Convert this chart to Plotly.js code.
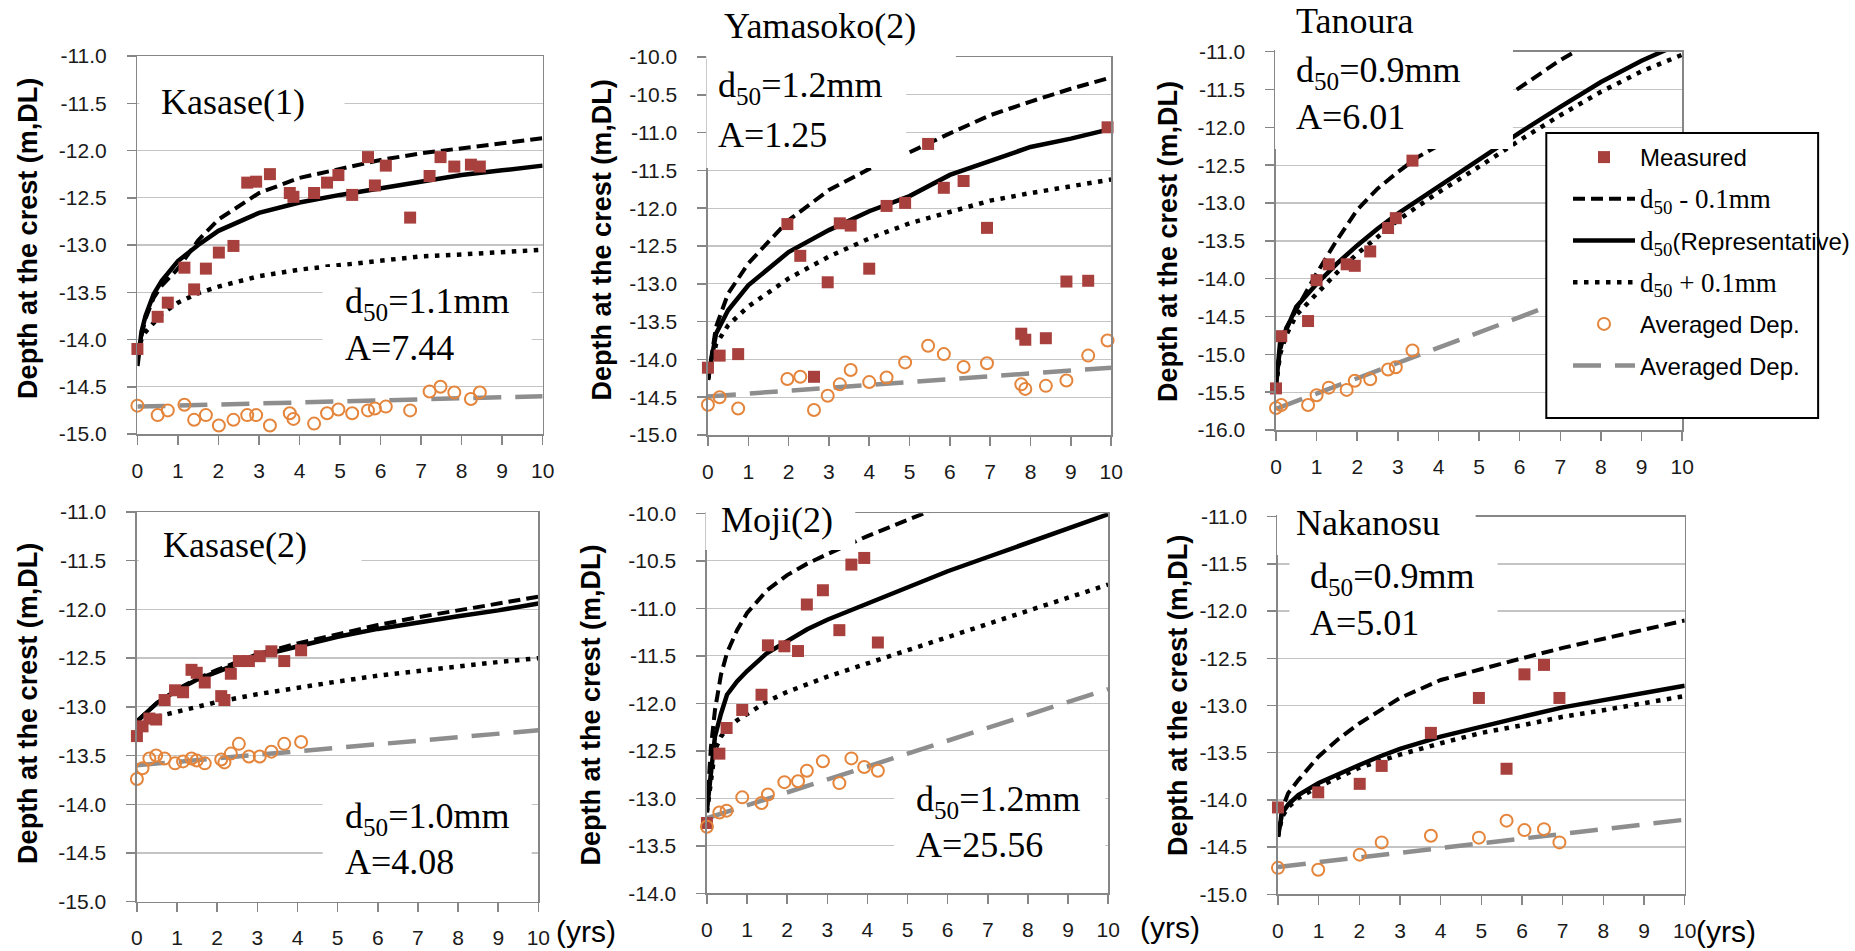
<!DOCTYPE html>
<html><head><meta charset="utf-8">
<script src="https://cdn.plot.ly/plotly-3.0.1.min.js"></script>
<style>html,body{margin:0;padding:0;background:#fff;}#chart{width:1855px;height:951px;}</style>
</head><body><div id="chart"></div>
<script>
// ---------------- data ----------------
const xTickVals = [0,1,2,3,4,5,6,7,8,9,10];
const xTickText = ['0','1','2','3','4','5','6','7','8','9','10'];
const yTicks11to15 = [-15.0,-14.5,-14.0,-13.5,-13.0,-12.5,-12.0,-11.5,-11.0];
const yTicks10to15 = [-15.0,-14.5,-14.0,-13.5,-13.0,-12.5,-12.0,-11.5,-11.0,-10.5,-10.0];
const yTicks11to16 = [-16.0,-15.5,-15.0,-14.5,-14.0,-13.5,-13.0,-12.5,-12.0,-11.5,-11.0];
const yTicks10to14 = [-14.0,-13.5,-13.0,-12.5,-12.0,-11.5,-11.0,-10.5,-10.0];
const trendYears = [0,10];

// Kasase(1)
const k1Years = [0,0.50,0.75,1.16,1.40,1.69,2.01,2.37,2.71,2.93,3.27,3.76,3.85,4.36,4.68,4.96,5.30,5.69,5.86,6.13,6.73,7.21,7.48,7.82,8.23,8.45];
const k1Measured = [-14.10,-13.76,-13.61,-13.24,-13.47,-13.25,-13.08,-13.01,-12.34,-12.33,-12.25,-12.45,-12.49,-12.45,-12.34,-12.26,-12.47,-12.07,-12.37,-12.16,-12.71,-12.27,-12.07,-12.17,-12.15,-12.17];
const k1Averaged = [-14.70,-14.80,-14.75,-14.69,-14.85,-14.80,-14.91,-14.85,-14.80,-14.80,-14.91,-14.78,-14.84,-14.89,-14.78,-14.74,-14.78,-14.75,-14.73,-14.71,-14.75,-14.55,-14.50,-14.56,-14.63,-14.56];
const k1CurveYears = [0,0.1,0.2,0.4,0.6,1,1.5,2,3,4,5,6,7,8,9,10];
const k1Minus = [-14.15,-13.97,-13.78,-13.56,-13.43,-13.25,-12.95,-12.73,-12.45,-12.29,-12.19,-12.10,-12.03,-11.98,-11.92,-11.87];
const k1Rep   = [-14.28,-13.92,-13.75,-13.52,-13.38,-13.17,-13.00,-12.85,-12.66,-12.55,-12.47,-12.40,-12.33,-12.26,-12.21,-12.16];
const k1Plus  = [-14.15,-14.00,-13.92,-13.82,-13.73,-13.61,-13.51,-13.44,-13.33,-13.26,-13.21,-13.16,-13.12,-13.10,-13.08,-13.05];
const k1Trend = [-14.71,-14.60];

// Yamasoko(2)
const y2Years = [0,0.29,0.75,1.97,2.29,2.63,2.97,3.27,3.54,4.00,4.43,4.89,5.46,5.85,6.34,6.92,7.77,7.87,8.38,8.89,9.43,9.91];
const y2Measured = [-14.11,-13.95,-13.93,-12.21,-12.63,-14.23,-12.98,-12.20,-12.23,-12.80,-11.97,-11.93,-11.15,-11.73,-11.64,-12.26,-13.66,-13.74,-13.72,-12.97,-12.96,-10.93];
const y2Averaged = [-14.60,-14.50,-14.65,-14.26,-14.23,-14.67,-14.48,-14.33,-14.14,-14.30,-14.24,-14.04,-13.82,-13.93,-14.10,-14.05,-14.33,-14.39,-14.35,-14.28,-13.95,-13.75];
const y2CurveYears = [0,0.2,0.5,1,2,3,4,5,6,7,8,9,10];
const y2Minus = [-14.27,-13.57,-13.13,-12.73,-12.16,-11.76,-11.48,-11.26,-11.01,-10.77,-10.59,-10.42,-10.27];
const y2Rep   = [-14.27,-13.66,-13.35,-13.02,-12.58,-12.29,-12.04,-11.84,-11.56,-11.37,-11.19,-11.08,-10.95];
const y2Plus  = [-14.27,-13.80,-13.55,-13.30,-12.93,-12.64,-12.40,-12.20,-12.05,-11.90,-11.80,-11.71,-11.62];
const y2Trend = [-14.49,-14.11];

// Tanoura
const t3Years = [0,0.13,0.79,1.00,1.30,1.74,1.94,2.32,2.76,2.95,3.36];
const t3Measured = [-15.45,-14.76,-14.56,-14.02,-13.81,-13.81,-13.83,-13.64,-13.33,-13.20,-12.44];
const t3Averaged = [-15.71,-15.67,-15.67,-15.54,-15.44,-15.47,-15.35,-15.33,-15.20,-15.17,-14.95];
const t3CurveYears = [0,0.1,0.25,0.5,1,1.5,2,2.5,3,3.5,4,5,6,7,8,9,10];
const t3MinusYears = [0,0.1,0.25,0.5,1,1.5,2,2.5,3,3.5,4,5,6,7,8];
const t3Minus = [-15.40,-14.95,-14.65,-14.41,-13.93,-13.49,-13.09,-12.81,-12.59,-12.39,-12.24,-11.84,-11.47,-11.11,-10.80];
const t3Rep   = [-15.43,-14.85,-14.68,-14.37,-14.07,-13.80,-13.56,-13.34,-13.14,-12.96,-12.78,-12.42,-12.07,-11.73,-11.40,-11.12,-10.88];
const t3Plus  = [-15.43,-15.00,-14.75,-14.48,-14.20,-13.92,-13.67,-13.45,-13.23,-13.04,-12.86,-12.52,-12.17,-11.84,-11.53,-11.26,-11.04];
const t3Trend = [-15.72,-13.70];

// Kasase(2)
const k2Years = [0,0.14,0.31,0.48,0.69,0.95,1.15,1.36,1.49,1.69,2.10,2.18,2.34,2.54,2.79,3.06,3.35,3.67,4.09];
const k2Measured = [-13.30,-13.20,-13.12,-13.13,-12.93,-12.83,-12.85,-12.62,-12.65,-12.75,-12.89,-12.93,-12.66,-12.53,-12.53,-12.48,-12.43,-12.53,-12.42];
const k2Averaged = [-13.74,-13.63,-13.53,-13.50,-13.53,-13.58,-13.56,-13.53,-13.55,-13.58,-13.54,-13.57,-13.48,-13.38,-13.51,-13.51,-13.46,-13.38,-13.36];
const k2CurveYears = [0,0.5,1,1.5,2,3,4,5,6,7,8,9,10];
const k2Minus = [-13.15,-12.96,-12.82,-12.71,-12.62,-12.46,-12.35,-12.25,-12.16,-12.08,-12.01,-11.94,-11.87];
const k2Rep   = [-13.15,-12.96,-12.83,-12.72,-12.64,-12.48,-12.38,-12.28,-12.20,-12.13,-12.07,-12.01,-11.94];
const k2Plus  = [-13.20,-13.10,-13.05,-13.00,-12.95,-12.87,-12.80,-12.74,-12.68,-12.63,-12.58,-12.54,-12.50];
const k2Trend = [-13.60,-13.24];

// Moji(2)
const m5Years = [0,0.31,0.49,0.88,1.36,1.52,1.93,2.27,2.49,2.89,3.30,3.60,3.92,4.26];
const m5Measured = [-13.26,-12.53,-12.26,-12.07,-11.91,-11.39,-11.40,-11.45,-10.96,-10.81,-11.23,-10.54,-10.47,-11.36];
const m5Averaged = [-13.30,-13.15,-13.13,-12.99,-13.05,-12.96,-12.83,-12.82,-12.71,-12.61,-12.84,-12.58,-12.67,-12.71];
const m5CurveYears = [0,0.1,0.2,0.35,0.5,0.75,1,1.5,2,2.5,3,4,5,6,7,8,9,10];
const m5MinusYears = [0,0.1,0.2,0.35,0.5,0.75,1,1.5,2,2.5,3,4,5,6];
const m5Minus = [-13.12,-12.46,-12.07,-11.70,-11.47,-11.23,-11.05,-10.81,-10.65,-10.53,-10.43,-10.24,-10.07,-9.90];
const m5Rep   = [-13.12,-12.74,-12.35,-12.11,-11.91,-11.77,-11.66,-11.47,-11.34,-11.22,-11.12,-10.95,-10.78,-10.61,-10.46,-10.31,-10.16,-10.01];
const m5Plus  = [-13.15,-12.81,-12.49,-12.35,-12.27,-12.18,-12.11,-11.98,-11.88,-11.80,-11.72,-11.58,-11.44,-11.30,-11.16,-11.02,-10.88,-10.75];
const m5Trend = [-13.21,-11.85];

// Nakanosu
const n6Years = [0,0.99,2.01,2.55,3.76,4.94,5.62,6.06,6.54,6.92];
const n6Measured = [-14.08,-13.92,-13.83,-13.64,-13.29,-12.92,-13.67,-12.67,-12.57,-12.92];
const n6Averaged = [-14.72,-14.74,-14.58,-14.45,-14.38,-14.40,-14.22,-14.32,-14.31,-14.45];
const n6CurveYears = [0,0.1,0.25,0.5,1,1.5,2,2.5,3,4,5,6,7,8,9,10];
const n6Minus = [-14.39,-14.10,-13.93,-13.79,-13.54,-13.35,-13.19,-13.05,-12.92,-12.73,-12.61,-12.50,-12.39,-12.29,-12.20,-12.10];
const n6Rep   = [-14.39,-14.14,-14.05,-13.95,-13.82,-13.72,-13.63,-13.54,-13.46,-13.33,-13.22,-13.12,-13.02,-12.94,-12.87,-12.79];
const n6Plus  = [-14.39,-14.18,-14.08,-13.98,-13.86,-13.76,-13.66,-13.59,-13.52,-13.40,-13.29,-13.21,-13.12,-13.05,-12.97,-12.90];
const n6Trend = [-14.71,-14.21];

// ---------------- figure ----------------
const W = 1855, H = 951;
const PX = v => v / W, PY = v => 1 - v / H;
const SERIF = 'Liberation Serif, Times New Roman, serif';
const SANS = 'Liberation Sans, Arial, sans-serif';
const RED = '#a8403d', ORANGE = '#e4853b', GRAY = '#8e8e8e', AXIS = '#868686', GRID = '#c4c4c4';

const panels = [
  {years:k1Years, measured:k1Measured, averaged:k1Averaged, cy:k1CurveYears, minus:k1Minus, rep:k1Rep, plus:k1Plus, trend:k1Trend, yr:[-15,-11], yt:yTicks11to15, box:[138,545,56,434]},
  {years:y2Years, measured:y2Measured, averaged:y2Averaged, cy:y2CurveYears, minus:y2Minus, rep:y2Rep, plus:y2Plus, trend:y2Trend, yr:[-15,-10], yt:yTicks10to15, box:[711,1116,57,435]},
  {years:t3Years, measured:t3Measured, averaged:t3Averaged, cy:t3CurveYears, my:t3MinusYears, minus:t3Minus, rep:t3Rep, plus:t3Plus, trend:t3Trend, yr:[-16,-11], yt:yTicks11to16, box:[1281.5,1689.5,51.7,430], legend:true},
  {years:k2Years, measured:k2Measured, averaged:k2Averaged, cy:k2CurveYears, minus:k2Minus, rep:k2Rep, plus:k2Plus, trend:k2Trend, yr:[-15,-11], yt:yTicks11to15, box:[137.5,540.7,512,901.7]},
  {years:m5Years, measured:m5Measured, averaged:m5Averaged, cy:m5CurveYears, my:m5MinusYears, minus:m5Minus, rep:m5Rep, plus:m5Plus, trend:m5Trend, yr:[-14,-10], yt:yTicks10to14, box:[710,1113,513.3,893.3]},
  {years:n6Years, measured:n6Measured, averaged:n6Averaged, cy:n6CurveYears, minus:n6Minus, rep:n6Rep, plus:n6Plus, trend:n6Trend, yr:[-15,-11], yt:yTicks11to15, box:[1283.5,1692,516.7,894.3]}
];

const traces = [];
const layout = {
  width: W, height: H, autosize: false,
  margin: {l:0, r:0, t:0, b:0},
  paper_bgcolor: '#fff', plot_bgcolor: '#fff',
  font: {family: SANS, color: '#1a1a1a'},
  showlegend: true,
  legend: {
    x: PX(1575), y: PY(135), xanchor: 'left', yanchor: 'top',
    bgcolor: 'rgba(0,0,0,0)', borderwidth: 0,
    font: {family: SANS, size: 24, color: '#000'},
    itemwidth: 62, tracegroupgap: 7.5, traceorder: 'grouped'
  },
  shapes: [], annotations: []
};

const serifName = s => '<span style="font-family:Liberation Serif;font-size:27px">' + s + '</span>';

panels.forEach((p, i) => {
  const n = i === 0 ? '' : String(i + 1);
  const xa = 'x' + n, ya = 'y' + n;
  const leg = !!p.legend;
  const [x0, x1, y0, y1] = p.box;
  traces.push({type:'scatter', mode:'lines', x:trendYears, y:p.trend, xaxis:xa, yaxis:ya,
    line:{color:GRAY, width:4.5, dash:'28px,14px'}, name:'Averaged Dep.', showlegend:leg, legendrank:6, legendgroup: leg ? 'g6' : undefined, hoverinfo:'skip'});
  traces.push({type:'scatter', mode:'lines', x:p.cy, y:p.plus, xaxis:xa, yaxis:ya,
    line:{color:'#000', width:4.5, dash:'4.5px,6.5px'}, name:serifName('d<sub>50</sub> + 0.1mm'), showlegend:leg, legendrank:4, legendgroup: leg ? 'g4' : undefined, hoverinfo:'skip'});
  traces.push({type:'scatter', mode:'lines', x:p.my || p.cy, y:p.minus, xaxis:xa, yaxis:ya,
    line:{color:'#000', width:4, dash:'12px,6px'}, name:serifName('d<sub>50</sub> - 0.1mm'), showlegend:leg, legendrank:2, legendgroup: leg ? 'g2' : undefined, hoverinfo:'skip'});
  traces.push({type:'scatter', mode:'lines', x:p.cy, y:p.rep, xaxis:xa, yaxis:ya,
    line:{color:'#000', width:4.5}, name:serifName('d<sub>50</sub>') + '(Representative)', showlegend:leg, legendrank:3, legendgroup: leg ? 'g3' : undefined, hoverinfo:'skip'});
  traces.push({type:'scatter', mode:'markers', x:p.years, y:p.measured, xaxis:xa, yaxis:ya, cliponaxis:false,
    marker:{symbol:'square', size:12, color:RED, line:{width:0}}, name:'Measured', showlegend:leg, legendrank:1, legendgroup: leg ? 'g1' : undefined});
  traces.push({type:'scatter', mode:'markers', x:p.years, y:p.averaged, xaxis:xa, yaxis:ya, cliponaxis:false,
    marker:{symbol:'circle-open', size:12, color:ORANGE, line:{width:2, color:ORANGE}}, name:'Averaged Dep.', showlegend:leg, legendrank:5, legendgroup: leg ? 'g5' : undefined});

  layout['xaxis' + n] = {
    domain:[PX(x0), PX(x1)], anchor: ya, range:[0,10], fixedrange:true,
    tickvals:xTickVals, ticktext:xTickText, ticks:'outside', ticklen:9, tickwidth:1.5, tickcolor:AXIS,
    ticklabelstandoff: 8,
    showgrid:false, zeroline:false, showline:true, linecolor:AXIS, linewidth:1.5, mirror:true,
    tickfont:{family:SANS, size:21, color:'#1a1a1a'}
  };
  layout['yaxis' + n] = {
    domain:[PY(y1), PY(y0)], anchor: xa, range:p.yr, fixedrange:true,
    tickvals:p.yt, ticktext:p.yt.map(v => v.toFixed(1)), ticks:'outside', ticklen:9, tickwidth:1.5, tickcolor:AXIS,
    ticklabelstandoff: 16,
    showgrid:true, gridcolor:GRID, gridwidth:1.3, zeroline:false, showline:true, linecolor:AXIS, linewidth:1.5, mirror:true,
    tickfont:{family:SANS, size:21, color:'#1a1a1a'}
  };
});

// white text boxes hiding part of the frame (as in the original figure)
const boxes = [
  [140,346,58.5,127],[324,534,267,370],
  [709.5,960,0,59],[709.5,910,50,168],
  [1280.5,1519.5,0,149],
  [139.5,363,514,580],[324,534,793,880],
  [708.5,859,505,550],[898,1110,780,867],
  [1282.5,1482,508,555],[1295,1504,553,647]
];
boxes.forEach(b => layout.shapes.push({type:'rect', xref:'paper', yref:'paper', layer:'above',
  x0:PX(b[0]), x1:PX(b[1]), y0:PY(b[3]), y1:PY(b[2]), fillcolor:'#fff', line:{width:0}}));
// legend frame
layout.shapes.push({type:'rect', xref:'paper', yref:'paper', layer:'above',
  x0:PX(1553), x1:PX(1826), y0:PY(418), y1:PY(133), fillcolor:'#fff', line:{width:2, color:'#000'}});

function txt(t, x, y, xa, size, fam, extra) {
  layout.annotations.push(Object.assign({text:t, xref:'paper', yref:'paper', x:PX(x), y:PY(y),
    xanchor:xa, yanchor:'middle', showarrow:false, font:{family:fam, size:size, color:'#000'}}, extra || {}));
}
// panel labels
txt('Kasase(1)', 234, 102, 'center', 36, SERIF);
txt('d<sub>50</sub>=1.1mm', 344, 303, 'left', 36, SERIF);
txt('A=7.44', 344, 348, 'left', 36, SERIF);
txt('Yamasoko(2)', 824, 26, 'center', 36, SERIF);
txt('d<sub>50</sub>=1.2mm', 719, 88, 'left', 36, SERIF);
txt('A=1.25', 719, 135, 'left', 36, SERIF);
txt('Tanoura', 1300, 21, 'left', 36, SERIF);
txt('d<sub>50</sub>=0.9mm', 1300, 73, 'left', 36, SERIF);
txt('A=6.01', 1300, 117, 'left', 36, SERIF);
txt('Kasase(2)', 236, 545, 'center', 36, SERIF);
txt('d<sub>50</sub>=1.0mm', 344, 818, 'left', 36, SERIF);
txt('A=4.08', 344, 862, 'left', 36, SERIF);
txt('Moji(2)', 722, 520, 'left', 36, SERIF);
txt('d<sub>50</sub>=1.2mm', 918, 801, 'left', 36, SERIF);
txt('A=25.56', 918, 845, 'left', 36, SERIF);
txt('Nakanosu', 1300, 523, 'left', 36, SERIF);
txt('d<sub>50</sub>=0.9mm', 1314, 578, 'left', 36, SERIF);
txt('A=5.01', 1314, 623, 'left', 36, SERIF);
// y-axis titles
const yTitle = '<b>Depth at the crest (m,DL)</b>';
[[28,238],[605,240],[1173,241],[28,703],[594,705],[1183,695]].forEach(c =>
  txt(yTitle, c[0], c[1], 'center', 27, SANS, {textangle:-90}));
// (yrs) labels
[[589,931],[1175,927],[1733,931]].forEach(c => txt('(yrs)', c[0], c[1], 'center', 30, SANS));

Plotly.newPlot('chart', traces, layout, {staticPlot:true, displayModeBar:false});
</script>
</body></html>
